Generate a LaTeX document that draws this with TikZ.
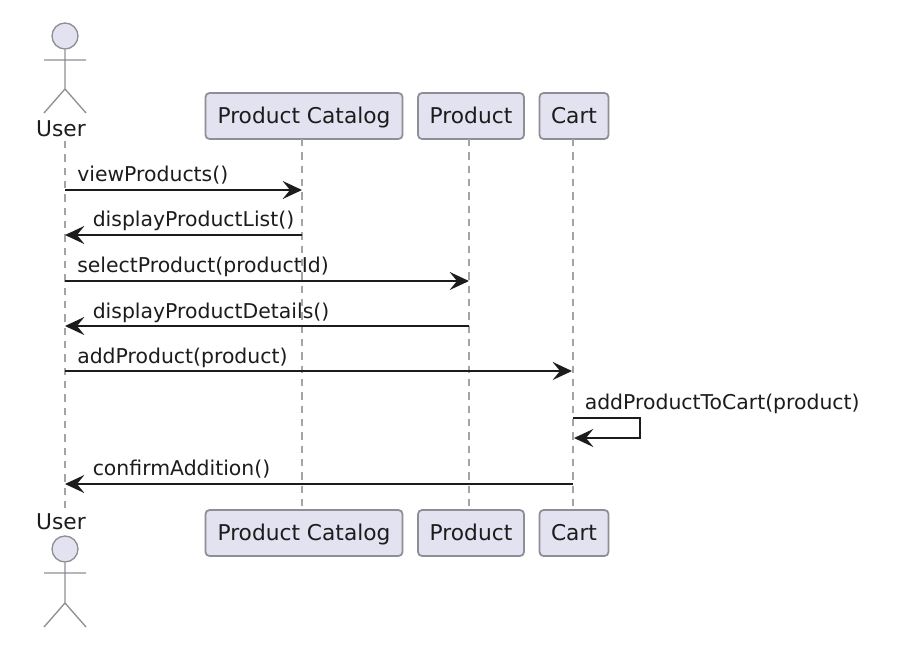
\documentclass[tikz,border=0pt]{standalone}
\usepackage{fontspec}
\setmainfont{DejaVu Sans}
\usetikzlibrary{arrows.meta}
\definecolor{boxfill}{HTML}{E2E2F0}
\definecolor{boxline}{HTML}{8E8E96}
\definecolor{lifeline}{HTML}{A4A4A4}
\definecolor{ink}{HTML}{1C1C1C}
\tikzset{
  x=0.75pt,y=-0.75pt,
  lab/.style={font=\fontsize{15.3pt}{19pt}\selectfont,text=ink,inner sep=0pt,anchor=base west},
  actlab/.style={font=\fontsize{16.3pt}{19pt}\selectfont,text=ink,inner sep=0pt,anchor=base},
  partbox/.style={draw=boxline,fill=boxfill,line width=1.3pt,rounded corners=3pt,minimum height=34.5pt,inner sep=0pt,text height=13.7pt,text depth=2.1pt,font=\fontsize{16.3pt}{19pt}\selectfont,text=ink},
  lifel/.style={draw=lifeline,line width=0.9pt,dash pattern=on 5.5pt off 4.5pt},
  msg/.style={draw=ink,line width=1.2pt,-{Stealth[length=14.5pt,width=13.5pt,inset=5.5pt]}},
  actorl/.style={draw=boxline,line width=1pt},
  actorh/.style={draw=boxline,fill=boxfill,line width=1pt,circle,minimum size=19.5pt,inner sep=0pt},
}
\begin{document}
\begin{tikzpicture}
\useasboundingbox[fill=white] (0,0) rectangle (900,653);
% participants
\node[partbox,minimum width=147.75pt] (catT) at (304,116) {Product Catalog};
\node[partbox,minimum width=79.5pt] (prodT) at (471,116) {Product};
\node[partbox,minimum width=51.75pt] (cartT) at (574,116) {Cart};
\node[partbox,minimum width=147.75pt] (catB) at (304,533) {Product Catalog};
\node[partbox,minimum width=79.5pt] (prodB) at (471,533) {Product};
\node[partbox,minimum width=51.75pt] (cartB) at (574,533) {Cart};
% actors
\node[actlab] (userT) at (61,136) {User};
\node[actlab] (userB) at (61,529) {User};
\node[actorh] (headT) at (65,36) {};
\node[actorh] (headB) at (65,549) {};
\coordinate (hipT) at (65,89);
\coordinate (armTL) at (44,60); \coordinate (armTR) at (86,60);
\coordinate (legTL) at (44,113); \coordinate (legTR) at (86,113);
\coordinate (hipB) at (65,603);
\coordinate (armBL) at (44,573); \coordinate (armBR) at (86,573);
\coordinate (legBL) at (44,627); \coordinate (legBR) at (86,627);
\draw[actorl] (headT.south) -- (hipT) (armTL) -- (armTR) (legTL) -- (hipT) -- (legTR);
\draw[actorl] (headB.south) -- (hipB) (armBL) -- (armBR) (legBL) -- (hipB) -- (legBR);
% lifelines
\coordinate (userTop) at (65,141); \coordinate (userBot) at (65,510);
\coordinate (catTop) at (302,139); \coordinate (catBot) at (302,510);
\coordinate (prodTop) at (469,139); \coordinate (prodBot) at (469,510);
\coordinate (cartTop) at (573,139); \coordinate (cartBot) at (573,510);
\draw[lifel] (userTop) -- (userBot);
\draw[lifel] (catTop) -- (catBot);
\draw[lifel] (prodTop) -- (prodBot);
\draw[lifel] (cartTop) -- (cartBot);
% messages
\coordinate (u1) at (65,190); \coordinate (c1) at (302,190);
\coordinate (c2) at (302,235); \coordinate (u2) at (65,235);
\coordinate (u3) at (65,281); \coordinate (p3) at (469,281);
\coordinate (p4) at (469,326); \coordinate (u4) at (65,326);
\coordinate (u5) at (65,371); \coordinate (k5) at (572,371);
\coordinate (k6) at (573,418); \coordinate (k6r) at (640,418); \coordinate (k7r) at (640,438); \coordinate (k7) at (574,438);
\coordinate (k8) at (573,484); \coordinate (u8) at (65,484);
\draw[msg] (u1) -- (c1);
\draw[msg] (c2) -- (u2);
\draw[msg] (u3) -- (p3);
\draw[msg] (p4) -- (u4);
\draw[msg] (u5) -- (k5);
\draw[msg] (k6) -- (k6r) -- (k7r) -- (k7);
\draw[msg] (k8) -- (u8);
% labels
\node[lab] (m1) at (77,181.5) {viewProducts()};
\node[lab] (m2) at (92.5,226.5) {displayProductList()};
\node[lab] (m3) at (77,272.5) {selectProduct(productId)};
\node[lab] (m4) at (92.5,318.5) {displayProductDetails()};
\node[lab] (m5) at (77,363.5) {addProduct(product)};
\node[lab] (m6) at (584.5,409.5) {addProductToCart(product)};
\node[lab] (m7) at (92.5,475.5) {confirmAddition()};
\end{tikzpicture}
\end{document}
